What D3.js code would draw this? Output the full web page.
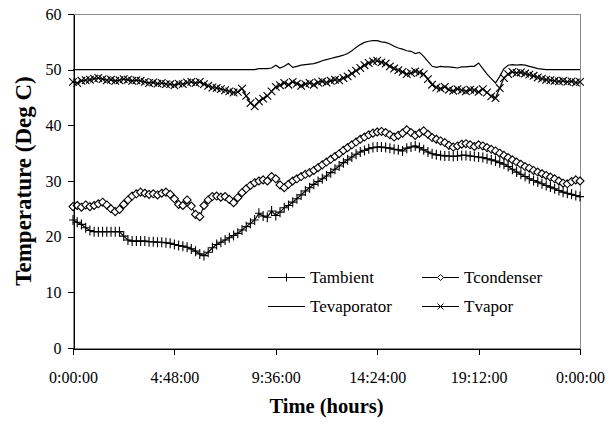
<!DOCTYPE html>
<html>
<head>
<script src="https://cdn.jsdelivr.net/npm/d3@7"></script>
<style>
body { margin: 0; background: white; }
text { font-family: "Liberation Serif", "Times New Roman", serif; fill: black; }
</style>
</head>
<body>
<script>

var width = 616,
    height = 424,
    plotLeft = 73,
    plotRight = 580,
    plotTop = 14,
    plotBottom = 348;

// one reading every 12 minutes, 0:00 to 24:00
var stepMinutes = 12;

var timeTicks  = [0, 288, 576, 864, 1152, 1440];
var timeLabels = ["0:00:00", "4:48:00", "9:36:00", "14:24:00", "19:12:00", "0:00:00"];
var tempTicks  = [0, 10, 20, 30, 40, 50, 60];

var tAmbient = [23.0,22.6,22.2,21.6,21.1, 20.9,20.9,20.9,20.9,20.9, 20.9,20.9,20.1,19.4,19.2,
                19.2,19.2,19.2,19.1,19.1, 19.0,19.0,18.9,18.8,18.6, 18.4,18.3,18.1,17.8,17.4,
                16.9,16.6,17.2,18.0,18.6, 19.0,19.4,19.8,20.2,20.6, 21.2,21.8,22.4,23.0,24.2,
                23.7,23.5,24.6,23.8,24.4, 25.2,25.6,26.2,26.8,27.5, 28.2,28.8,29.4,29.9,30.4,
                30.9,31.5,32.1,32.7,33.3, 33.8,34.3,34.8,35.2,35.5, 35.8,36.0,36.1,36.1,36.0,
                35.9,35.7,35.6,35.4,35.9, 36.1,36.3,36.0,35.6,35.2, 34.9,34.7,34.6,34.5,34.5,
                34.4,34.5,34.6,34.6,34.5, 34.4,34.3,34.2,34.0,33.8, 33.6,33.3,33.0,32.6,32.1,
                31.6,31.2,30.8,30.4,30.1, 29.8,29.5,29.2,28.9,28.6, 28.3,28.0,27.8,27.6,27.4,
                27.2];

var tCondenser = [25.4,25.6,25.3,25.7,25.4, 25.6,25.9,26.2,25.7,25.0, 24.5,24.9,25.8,26.6,27.3,
                  27.7,28.0,27.8,27.6,27.7, 27.5,27.8,28.0,27.6,26.8, 25.8,25.6,26.6,25.5,24.0,
                  23.6,25.6,26.6,27.2,27.3, 27.1,27.2,26.7,26.1,27.0, 27.9,28.6,29.2,29.7,30.0,
                  30.2,30.0,30.8,30.4,29.3, 28.8,29.4,30.0,30.4,30.8, 31.2,31.5,31.9,32.4,32.9,
                  33.4,33.9,34.4,34.9,35.5, 36.0,36.5,37.0,37.5,37.9, 38.3,38.6,38.8,38.9,38.7,
                  38.3,37.9,38.2,38.6,39.2, 38.7,38.2,38.6,39.0,38.4, 37.8,37.5,37.2,36.9,36.4,
                  36.1,36.3,36.6,36.7,36.5, 36.2,36.5,36.3,36.0,35.7, 35.4,35.0,34.6,34.2,33.8,
                  33.4,33.0,32.6,32.3,31.9, 31.6,31.3,31.0,30.7,30.4, 30.0,29.6,29.5,29.9,30.2,
                  30.0];

var tEvaporator = [50.0,50.0,50.0,50.0,50.0, 50.0,50.0,50.0,50.0,50.0, 50.0,50.0,50.0,50.0,50.0,
                   50.0,50.0,50.0,50.0,50.0, 50.0,50.0,50.0,50.0,50.0, 50.0,50.0,50.0,50.0,50.0,
                   50.0,50.0,50.0,50.0,50.0, 50.0,50.0,50.0,50.0,50.0, 50.0,50.0,50.0,50.0,50.2,
                   50.2,50.2,50.3,50.8,50.3, 50.6,51.1,50.4,50.6,50.8, 50.9,51.0,51.1,51.3,51.6,
                   51.8,52.0,52.2,52.4,52.6, 52.9,53.4,54.0,54.5,54.9, 55.1,55.2,55.2,55.0,54.9,
                   54.6,54.2,53.9,53.7,53.4, 53.3,52.9,53.1,52.4,51.5, 50.6,50.4,50.6,50.5,50.5,
                   50.4,50.3,50.5,50.5,50.6, 50.6,51.2,50.2,49.2,48.4, 47.6,48.8,50.2,50.8,50.9,
                   50.8,50.9,50.8,50.6,50.4, 50.2,50.1,50.0,50.0,50.0, 50.0,50.0,50.0,50.0,50.0,
                   50.0];

var tVapor = [47.8,47.6,48.0,48.1,48.2, 48.4,48.5,48.3,48.1,48.2, 48.0,48.1,48.3,48.2,48.0,
              48.1,48.0,47.8,47.6,47.7, 47.5,47.6,47.4,47.4,47.2, 47.5,47.4,47.7,47.8,47.6,
              47.8,47.4,47.1,46.8,46.7, 46.5,46.3,46.1,45.9,46.0, 46.6,45.3,44.0,43.4,44.3,
              44.8,45.3,46.1,46.9,47.2, 47.6,47.3,47.8,47.5,47.1, 47.4,47.6,47.3,47.7,47.9,
              47.7,48.0,48.2,48.1,48.5, 48.8,49.3,49.8,50.3,50.8, 51.2,51.5,51.6,51.3,51.1,
              50.6,50.2,49.9,49.6,49.2, 49.4,49.7,49.5,49.2,48.3, 47.3,46.8,46.6,46.9,46.4,
              46.2,46.5,46.3,46.1,46.4, 46.3,46.0,46.5,45.9,45.2, 44.9,46.7,48.5,49.2,49.6,
              49.4,49.5,49.3,49.1,48.9, 48.6,48.4,48.2,48.1,48.0, 47.9,48.0,47.8,47.9,47.7,
              47.8];

var seriesNames   = ["Tambient", "Tcondenser", "Tevaporator", "Tvapor"];
var seriesMarkers = ["plus", "diamond", "none", "cross"];
var seriesValues  = [tAmbient, tCondenser, tEvaporator, tVapor];

var x = d3.scaleLinear()
          .domain([0, 1440])
          .range([plotLeft, plotRight]);

var y = d3.scaleLinear()
          .domain([0, 60])
          .range([plotBottom, plotTop]);

var svg = d3.select("body")
            .append("svg")
            .attr("width", width)
            .attr("height", height)
            .style("background", "white");

// plot area frame (grey), axes drawn over it in black
svg.append("rect")
   .attr("x", plotLeft + 0.5)
   .attr("y", plotTop + 0.5)
   .attr("width", plotRight - plotLeft)
   .attr("height", plotBottom - plotTop)
   .style("fill", "none")
   .style("stroke", "#8c8c8c")
   .style("shape-rendering", "crispEdges");

function markerPath(type, s) {
  if (type == "plus")    return "M" + (-s) + ",0H" + s + "M0," + (-s - 1) + "V" + (s + 1);
  if (type == "diamond") return "M0," + (-s) + "L" + s + ",0L0," + s + "L" + (-s) + ",0Z";
  if (type == "cross")   return "M" + (-s) + "," + (-s) + "L" + s + "," + s + "M" + (-s) + "," + s + "L" + s + "," + (-s);
  return "";
}

var line = d3.line()
             .x(function (d, i) { return x(i * stepMinutes); })
             .y(function (d) { return y(d); });

var plot = svg.append("g");

seriesValues.forEach(function (vals, k) {
  var g = plot.append("g");
  g.append("path")
   .datum(vals)
   .attr("d", line)
   .style("fill", "none")
   .style("stroke", "black")
   .style("stroke-width", 1.2);

  if (seriesMarkers[k] != "none") {
    var size = seriesMarkers[k] == "cross" ? 3.8 : 4;
    g.selectAll(".m")
     .data(vals)
     .enter()
     .append("path")
     .attr("transform", function (d, i) { return "translate(" + x(i * stepMinutes) + "," + y(d) + ")"; })
     .attr("d", markerPath(seriesMarkers[k], size))
     .style("fill", seriesMarkers[k] == "diamond" ? "white" : "none")
     .style("stroke", "black")
     .style("stroke-width", 1.1);
  }
});

var yAxis = svg.append("g")
               .attr("transform", "translate(" + (plotLeft + 0.5) + ",0)")
               .call(d3.axisLeft(y).tickValues(tempTicks).tickSize(6).tickSizeOuter(0).tickPadding(6));

var xAxis = svg.append("g")
               .attr("transform", "translate(0," + (plotBottom + 0.5) + ")")
               .call(d3.axisBottom(x).tickValues(timeTicks)
                       .tickFormat(function (d, i) { return timeLabels[i]; })
                       .tickSize(6).tickSizeOuter(0).tickPadding(17));

svg.selectAll(".tick text")
   .style("font-family", "'Liberation Serif', serif")
   .style("font-size", "16px");

svg.selectAll(".domain, .tick line")
   .style("stroke", "black")
   .style("shape-rendering", "crispEdges");

svg.append("text")
   .attr("x", (plotLeft + plotRight) / 2)
   .attr("y", 413)
   .attr("text-anchor", "middle")
   .style("font-size", "20.5px")
   .style("font-weight", "bold")
   .text("Time (hours)");

svg.append("text")
   .attr("transform", "translate(31," + (plotTop + plotBottom) / 2 + ") rotate(-90)")
   .attr("text-anchor", "middle")
   .style("font-size", "23px")
   .style("font-weight", "bold")
   .text("Temperature (Deg C)");

// legend, two columns
var legendX = [268, 422],
    legendY = [277, 306];

seriesNames.forEach(function (name, k) {
  var lx = legendX[k % 2],
      ly = legendY[Math.floor(k / 2)];
  var g = svg.append("g").attr("transform", "translate(" + lx + "," + ly + ")");
  g.append("line")
   .attr("x1", 0).attr("x2", 37)
   .attr("y1", 0.5).attr("y2", 0.5)
   .style("stroke", "black");
  g.append("path")
   .attr("transform", "translate(18.5,0.5)")
   .attr("d", markerPath(seriesMarkers[k], 3))
   .style("fill", seriesMarkers[k] == "diamond" ? "white" : "none")
   .style("stroke", "black");
  g.append("text")
   .attr("x", 42)
   .attr("y", 6)
   .style("font-size", "17px")
   .text(name);
});

</script>
</body>
</html>
